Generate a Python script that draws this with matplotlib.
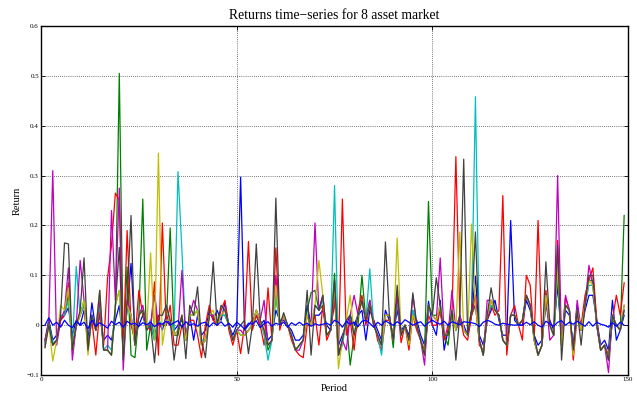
import numpy as np
import matplotlib
matplotlib.use("Agg")
import matplotlib.pyplot as plt

plt.rcParams['font.family'] = ['Liberation Serif', 'DejaVu Serif']

period = np.arange(1, 150)

asset1 = [
    -0.03, 0.01, -0.03, -0.02, 0.01, 0.02, 0.035, -0.02, 0.01, 0.0,
    0.03, -0.03, 0.045, -0.01, 0.02, -0.03, -0.02, -0.03, 0.01, 0.04,
    -0.04, 0.03, 0.124, -0.02, 0.0, 0.02, -0.01, 0.01, -0.02, 0.01,
    -0.01, 0.02, 0.0, -0.01, 0.0, 0.01, -0.02, 0.02, -0.03, 0.02,
    -0.02, -0.01, 0.03, 0.01, 0.03, 0.01, 0.045, 0.0, -0.02, 0.0,
    0.297, -0.01, 0.0, 0.01, 0.02, 0.0, 0.01, -0.03, -0.02, 0.03,
    0.01, 0.01, 0.0, -0.01, -0.03, -0.03, -0.02, 0.04, 0.0, 0.02,
    0.02, 0.03, 0.0, -0.01, 0.05, -0.04, -0.02, 0.0, 0.02, 0.0,
    0.02, 0.03, -0.03, 0.03, 0.01, -0.01, -0.03, 0.03, 0.01, -0.02,
    0.03, -0.01, 0.0, -0.02, 0.02, 0.01, -0.02, -0.04, 0.048, 0.0,
    -0.02, 0.05, -0.05, -0.01, 0.02, 0.0, 0.01, 0.0, -0.02, 0.02,
    0.098, -0.02, -0.04, 0.01, 0.03, 0.05, 0.01, -0.02, -0.02, 0.21,
    0.01, 0.0, 0.0, 0.05, 0.03, -0.02, -0.04, -0.03, 0.04, 0.01,
    -0.01, 0.08, -0.03, 0.03, 0.02, -0.04, 0.04, -0.01, 0.03, 0.06,
    0.06, 0.01, -0.04, -0.03, -0.05, 0.05, -0.03, -0.01, 0.02,
]

asset2 = [
    -0.035, 0.01, -0.04, -0.03, 0.015, 0.02, 0.06, -0.05, 0.0, 0.02,
    0.05, -0.04, 0.02, -0.01, 0.04, -0.05, -0.05, -0.06, 0.03, 0.505,
    -0.05, 0.117, -0.06, -0.065, 0.02, 0.253, -0.05, 0.0, -0.03, 0.01,
    0.0, 0.0, 0.195, -0.02, -0.02, 0.02, -0.03, 0.02, 0.02, 0.03,
    -0.04, -0.03, 0.02, 0.02, 0.0, 0.02, 0.02, 0.0, -0.03, -0.01,
    -0.02, -0.02, -0.01, 0.0, 0.03, 0.01, -0.01, -0.05, -0.03, 0.06,
    0.0, 0.02, 0.0, -0.02, -0.05, -0.04, -0.03, 0.03, 0.065, 0.07,
    0.03, 0.04, -0.02, -0.01, 0.104, -0.06, -0.03, 0.01, -0.08, -0.02,
    0.0, 0.1, 0.01, 0.05, 0.0, -0.02, -0.04, 0.02, 0.02, -0.045,
    0.06, -0.02, 0.0, -0.03, 0.03, 0.0, -0.03, -0.06, 0.248, 0.02,
    0.02, 0.03, -0.02, -0.04, 0.03, -0.01, 0.01, -0.01, -0.02, 0.02,
    0.04, -0.03, -0.06, 0.02, 0.05, 0.03, 0.02, -0.03, -0.04, 0.02,
    0.02, 0.0, 0.01, 0.06, 0.04, -0.03, -0.06, -0.04, 0.06, 0.0,
    -0.02, 0.1, -0.04, 0.04, 0.03, -0.05, 0.03, -0.01, 0.04, 0.09,
    0.09, 0.0, -0.05, -0.04, -0.07, 0.01, 0.0, -0.01, 0.22,
]

asset3 = [
    -0.03, 0.0, -0.04, -0.03, 0.01, 0.02, 0.085, -0.04, 0.0, 0.02,
    0.04, -0.04, 0.01, -0.06, 0.03, -0.04, 0.095, 0.16, 0.265, 0.25,
    -0.05, 0.19, 0.0, -0.03, 0.07, 0.02, 0.0, -0.01, 0.087, -0.06,
    0.205, 0.0, 0.04, -0.04, -0.04, 0.0, -0.02, 0.01, 0.01, -0.02,
    -0.065, 0.0, 0.04, 0.01, 0.0, 0.03, 0.05, -0.01, -0.04, -0.01,
    -0.057, 0.0, 0.168, -0.01, 0.02, 0.0, -0.04, 0.075, -0.03, 0.155,
    -0.01, 0.02, 0.0, -0.03, -0.05, -0.06, -0.065, 0.0, 0.0, 0.02,
    -0.04, 0.04, -0.03, -0.01, 0.05, -0.05, 0.253, -0.02, 0.01, -0.05,
    0.03, 0.06, 0.0, 0.04, 0.01, -0.03, -0.05, 0.01, 0.01, -0.02,
    0.05, -0.035, 0.0, -0.05, 0.02, -0.01, -0.03, -0.05, 0.02, 0.0,
    0.0, 0.03, -0.03, 0.0, 0.02, 0.338, 0.02, -0.02, -0.03, 0.02,
    0.06, -0.04, -0.05, 0.01, 0.04, 0.02, 0.03, 0.26, -0.06, 0.02,
    0.04, 0.0, -0.03, 0.1, 0.08, -0.03, 0.21, -0.03, 0.07, 0.0,
    -0.02, 0.17, -0.04, 0.055, 0.03, -0.07, 0.02, 0.0, 0.06, 0.09,
    0.115, 0.01, -0.05, -0.04, -0.06, 0.01, 0.06, 0.02, 0.085,
]

asset4 = [
    -0.035, 0.0, -0.035, -0.03, 0.02, 0.02, 0.05, -0.04, 0.118, 0.02,
    0.04, -0.04, 0.02, -0.01, 0.04, -0.05, -0.04, -0.05, 0.04, 0.07,
    -0.05, 0.04, 0.02, -0.04, 0.02, 0.03, -0.01, 0.01, -0.03, 0.01,
    0.0, 0.01, 0.01, -0.01, 0.308, 0.15, -0.03, 0.02, 0.02, 0.03,
    -0.03, -0.03, 0.02, 0.02, 0.01, 0.02, 0.02, 0.0, -0.03, -0.01,
    -0.02, -0.02, -0.01, 0.0, 0.03, 0.01, -0.02, -0.07, -0.03, 0.06,
    0.0, 0.02, 0.0, -0.02, -0.05, -0.04, -0.03, 0.02, 0.0, 0.04,
    0.03, 0.05, -0.02, -0.01, 0.28, -0.06, -0.04, 0.01, 0.02, -0.02,
    0.02, 0.05, 0.01, 0.113, 0.0, -0.02, -0.06, 0.02, 0.02, -0.03,
    0.05, -0.02, 0.0, -0.03, 0.03, 0.0, -0.03, -0.06, 0.04, 0.02,
    0.01, 0.04, -0.02, -0.02, 0.03, -0.01, 0.02, -0.01, -0.02, 0.03,
    0.458, -0.03, -0.06, 0.02, 0.04, 0.03, 0.02, -0.03, -0.04, 0.02,
    0.02, 0.0, 0.01, 0.06, 0.04, -0.03, -0.06, -0.04, 0.05, 0.0,
    -0.02, 0.11, -0.04, 0.04, 0.03, -0.05, 0.03, -0.01, 0.04, 0.08,
    0.08, 0.0, -0.05, -0.04, -0.07, 0.02, 0.0, -0.01, 0.03,
]

asset5 = [
    -0.04, 0.01, 0.31, -0.04, 0.01, 0.03, 0.115, -0.07, 0.0, 0.13,
    0.05, -0.05, 0.02, -0.01, 0.05, -0.05, -0.05, 0.23, 0.05, 0.275,
    -0.09, 0.05, 0.02, -0.04, 0.02, 0.04, 0.0, 0.0, 0.06, 0.0,
    0.0, 0.01, 0.0, -0.02, -0.01, 0.11, -0.03, 0.02, 0.05, 0.03,
    -0.04, -0.03, 0.02, 0.02, 0.0, 0.02, 0.03, 0.0, -0.03, -0.01,
    -0.01, -0.02, -0.01, 0.0, 0.03, 0.01, 0.05, -0.04, -0.03, 0.1,
    0.0, 0.02, 0.0, -0.02, -0.05, -0.05, -0.03, 0.02, 0.0, 0.205,
    0.03, 0.06, -0.02, -0.01, 0.07, -0.06, -0.03, -0.05, 0.02, 0.06,
    0.02, 0.05, 0.01, 0.05, 0.0, -0.02, -0.04, 0.02, 0.02, -0.03,
    0.06, -0.02, 0.0, -0.03, 0.06, 0.0, -0.03, -0.08, 0.04, 0.02,
    0.01, 0.135, -0.02, -0.02, 0.07, -0.01, 0.02, -0.01, -0.02, 0.03,
    0.04, -0.03, -0.06, 0.05, 0.05, 0.03, 0.02, -0.03, -0.04, 0.02,
    0.02, 0.0, 0.01, 0.06, 0.04, -0.03, -0.06, -0.04, 0.06, -0.03,
    -0.02, 0.3, -0.04, 0.06, 0.03, -0.05, 0.05, -0.01, 0.04, 0.12,
    0.08, 0.0, -0.05, -0.04, -0.095, 0.02, 0.0, -0.01, 0.04,
]

asset6 = [
    -0.045, 0.0, -0.072, -0.03, 0.04, 0.03, 0.075, -0.05, 0.0, 0.02,
    0.05, -0.06, 0.02, -0.01, 0.07, -0.05, -0.05, -0.06, 0.04, 0.07,
    -0.06, 0.04, 0.02, -0.04, 0.02, 0.03, -0.01, 0.145, -0.03, 0.345,
    -0.04, 0.01, 0.01, -0.02, -0.01, 0.02, -0.03, 0.02, 0.02, 0.03,
    -0.04, -0.03, 0.02, 0.03, 0.0, 0.02, 0.03, 0.0, -0.03, -0.01,
    -0.02, -0.02, -0.01, 0.0, 0.03, 0.01, -0.01, -0.04, -0.03, 0.08,
    0.0, 0.02, 0.0, -0.02, -0.05, -0.04, -0.03, 0.02, 0.0, 0.04,
    0.13, 0.06, -0.02, -0.01, 0.08, -0.087, -0.03, 0.01, 0.06, -0.02,
    0.02, 0.05, 0.01, 0.04, 0.0, -0.02, -0.04, 0.02, 0.02, -0.03,
    0.175, -0.02, 0.0, -0.04, 0.02, 0.0, -0.03, -0.06, 0.04, 0.02,
    0.01, 0.04, -0.02, -0.02, 0.03, -0.01, 0.187, -0.01, -0.02, 0.203,
    0.04, -0.03, -0.06, 0.02, 0.05, 0.03, 0.02, -0.03, -0.04, 0.02,
    0.02, 0.0, 0.01, 0.06, 0.04, -0.03, -0.06, -0.04, 0.06, 0.0,
    -0.02, 0.12, -0.04, 0.04, 0.03, -0.06, 0.03, -0.01, 0.04, 0.09,
    0.08, 0.0, -0.05, -0.04, -0.07, 0.02, 0.0, -0.01, 0.04,
]

asset7 = [
    -0.045, 0.0, -0.04, -0.03, 0.02, 0.165, 0.163, -0.05, 0.0, 0.03,
    0.135, -0.05, 0.02, -0.01, 0.07, -0.05, -0.05, -0.06, 0.04, 0.156,
    -0.07, 0.05, 0.22, -0.04, 0.02, 0.03, -0.01, 0.0, -0.075, 0.02,
    0.02, 0.04, 0.01, -0.07, -0.01, 0.02, -0.067, 0.04, 0.02, 0.077,
    -0.03, -0.065, 0.02, 0.127, 0.0, 0.04, 0.03, 0.0, -0.03, -0.01,
    0.0, 0.01, -0.057, 0.0, 0.163, 0.01, -0.01, -0.04, -0.03, 0.255,
    0.0, 0.025, 0.0, -0.02, -0.05, -0.04, -0.03, 0.07, -0.06, 0.04,
    0.03, 0.06, -0.02, -0.01, 0.09, -0.06, -0.03, 0.01, 0.02, -0.02,
    0.02, 0.05, 0.01, 0.04, 0.0, -0.02, -0.04, 0.167, 0.02, -0.03,
    0.08, -0.02, 0.0, -0.03, 0.065, 0.0, -0.03, -0.06, 0.04, 0.02,
    0.095, 0.04, -0.02, -0.02, 0.03, -0.07, 0.02, 0.333, -0.02, 0.03,
    0.187, -0.03, -0.06, 0.02, 0.075, 0.03, 0.02, -0.03, -0.04, 0.02,
    0.02, 0.0, 0.01, 0.06, 0.04, -0.02, -0.06, -0.04, 0.127, 0.0,
    -0.02, 0.16, -0.07, 0.04, 0.03, -0.05, 0.03, -0.04, 0.04, 0.1,
    0.1, 0.0, -0.05, -0.04, -0.07, 0.02, 0.0, -0.01, 0.03,
]

asset8 = [
    0.0, 0.015, 0.0, 0.006, -0.004, 0.01, 0.0, -0.005, 0.008, 0.0,
    0.006, -0.007, 0.01, -0.002, 0.005, 0.0, -0.006, 0.008, 0.001, 0.006,
    -0.004, 0.008, 0.002, 0.004, -0.002, 0.005, 0.001, 0.006, -0.003, 0.004,
    0.002, 0.008, 0.0, 0.005, 0.009, -0.004, 0.007, 0.0, 0.003, -0.002,
    0.004, 0.006, -0.003, 0.005, 0.0, 0.007, -0.002, 0.004, -0.004, 0.006,
    0.0, -0.008, 0.004, 0.002, 0.009, -0.005, 0.003, 0.007, -0.002, 0.004,
    0.001, 0.006, -0.004, 0.005, 0.0, 0.006, 0.0, 0.004, -0.002, 0.003,
    0.0, 0.002, 0.004, 0.0, 0.01, 0.006, -0.004, 0.008, 0.002, 0.006,
    -0.003, 0.008, 0.01, 0.004, -0.004, 0.006, 0.0, 0.009, 0.004, 0.0,
    0.007, 0.002, 0.011, 0.006, 0.0, 0.004, 0.007, -0.002, 0.005, 0.01,
    0.005, 0.002, 0.008, 0.0, 0.007, 0.004, 0.001, 0.007, 0.006, 0.005,
    0.003, -0.003, 0.006, 0.01, 0.007, 0.002, 0.0, 0.004, 0.002, 0.001,
    0.0, 0.001, 0.0, 0.006, 0.001, 0.007, 0.0, -0.004, 0.008, 0.003,
    -0.002, 0.006, 0.009, 0.0, 0.006, 0.002, 0.008, 0.003, -0.002, 0.007,
    -0.002, 0.006, 0.002, 0.0, -0.004, 0.005, -0.002, 0.006, 0.0,
]

series = [asset1, asset2, asset3, asset4, asset5, asset6, asset7, asset8]
colors = [
    (0.0, 0.0, 1.0), (0.0, 0.5, 0.0), (1.0, 0.0, 0.0), (0.0, 0.75, 0.75),
    (0.75, 0.0, 0.75), (0.75, 0.75, 0.0), (0.25, 0.25, 0.25), (0.0, 0.0, 1.0),
]

fig = plt.figure(figsize=(6.37, 3.94), dpi=100)
ax = fig.add_axes([0.0644, 0.048, 0.9216, 0.886])

for values, color in zip(series, colors):
    ax.plot(period, values, color=color, linewidth=0.9)

ax.set_xlim(0, 150)
ax.set_ylim(-0.1, 0.6)
ax.set_xticks([0, 50, 100, 150])
ax.set_yticks([-0.1, 0, 0.1, 0.2, 0.3, 0.4, 0.5, 0.6])
ax.set_yticklabels(['\u22120.1', '0', '0.1', '0.2', '0.3', '0.4', '0.5', '0.6'])
ax.tick_params(direction='in', length=3, width=0.6, labelsize=5,
               top=True, right=True, pad=1.5, colors='black')
ax.grid(True, color='black', linestyle=(0, (1, 2)), linewidth=0.5)
for side in ax.spines.values():
    side.set_linewidth(1.0)

ax.set_title('Returns time\u2212series for 8 asset market', fontsize=9.8, pad=5)
ax.set_xlabel('Period', fontsize=7.5, labelpad=1)
ax.set_ylabel('Return', fontsize=7.5, labelpad=3)

fig.savefig('out.png', dpi=100)
